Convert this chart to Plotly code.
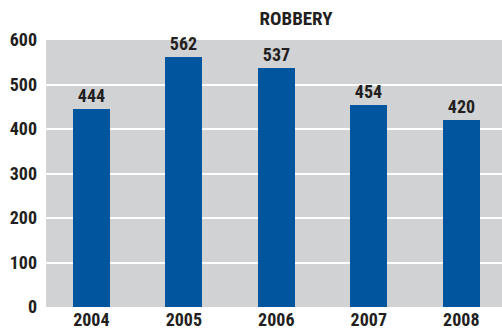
import plotly.graph_objects as go

years = ["2004", "2005", "2006", "2007", "2008"]
robbery = [444, 562, 537, 454, 420]
y_ticks = [0, 100, 200, 300, 400, 500, 600]
title_text = "ROBBERY"

FONT = "Liberation Sans Narrow, Arial Narrow, Roboto Condensed, Liberation Sans, sans-serif"
TXT = "#231f20"

fig = go.Figure(
    go.Bar(
        x=list(range(len(years))),
        y=robbery,
        width=0.4,
        marker=dict(color="#00559f", line=dict(width=0)),
        text=[str(v) for v in robbery],
        textposition="outside",
        textfont=dict(family=FONT, size=18, color=TXT, weight="bold"),
        cliponaxis=False,
        hoverinfo="skip",
    )
)

fig.update_layout(
    width=502,
    height=332,
    margin=dict(l=46, r=0, t=40, b=25),
    paper_bgcolor="white",
    plot_bgcolor="#d1d2d4",
    showlegend=False,
    font=dict(family=FONT, color=TXT, weight="bold"),
    title=dict(
        text=title_text,
        x=296 / 502,
        xanchor="center",
        y=1 - 18.5 / 332,
        yanchor="middle",
        font=dict(family=FONT, size=19, color=TXT, weight="bold"),
    ),
    bargap=0,
)

fig.update_xaxes(
    tickmode="array",
    tickvals=list(range(len(years))),
    ticktext=years,
    range=[-0.49, 4.44],
    showgrid=False,
    zeroline=False,
    showline=False,
    ticks="",
    tickfont=dict(family=FONT, size=18, color=TXT, weight="bold"),
)
fig.update_yaxes(
    range=[0, 600],
    tickvals=y_ticks,
    showgrid=True,
    gridcolor="white",
    gridwidth=2,
    zeroline=False,
    showline=False,
    ticks="",
    ticklabelstandoff=8,
    tickfont=dict(family=FONT, size=18, color=TXT, weight="bold"),
)

fig.write_html(
    "out.html",
    config={"displayModeBar": False},
    post_script="document.body.style.margin='0';document.body.style.padding='0';",
)
